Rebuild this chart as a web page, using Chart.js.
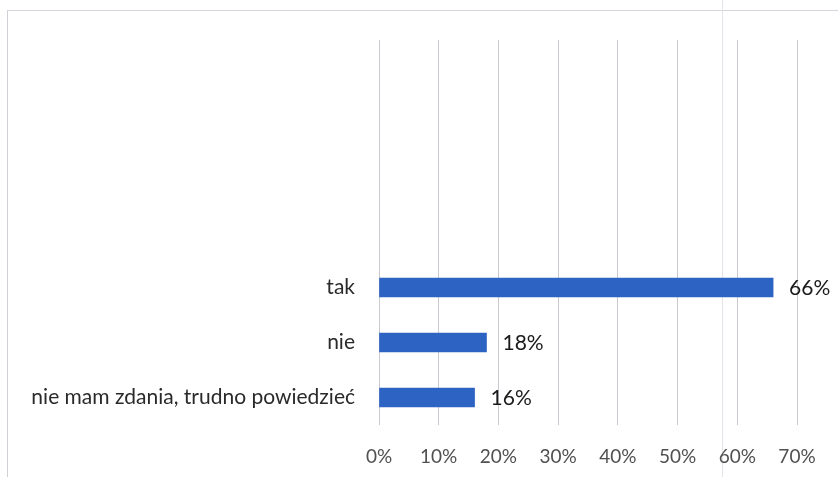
<!DOCTYPE html>
<html>
<head>
    <meta charset="utf-8">
    <title>tak / nie</title>
    <style>
        body {
            margin: 0;
            background: #ffffff;
            font-family: 'Lato', sans-serif;
        }
        #frame {
            position: absolute;
            left: 7px;
            top: 10px;
            right: -2px;
            bottom: -2px;
            border-left: 1px solid #d0d0d6;
            border-top: 1px solid #d4d6de;
        }
        #scanline {
            position: absolute;
            left: 722px;
            top: 0;
            width: 1px;
            height: 477px;
            background: #e2e4ea;
        }
        #chart-container {
            position: absolute;
            left: 0;
            top: 0;
            width: 838px;
            height: 477px;
        }
    </style>
    <script src="https://cdn.jsdelivr.net/npm/chart.js"></script>
</head>
<body>
    <div id="frame"></div>
    <div id="scanline"></div>
    <div id="chart-container">
        <canvas id="chart"></canvas>
    </div>
    <script>
        // empty slots above keep the three bars at the bottom, as in the original
        const categories = ['', '', '', '', 'tak', 'nie', 'nie mam zdania, trudno powiedzieć'];
        const values = [null, null, null, null, 66, 18, 16];
        const tickMax = 70;
        const tickStep = 10;

        const valueLabels = {
            id: 'valueLabels',
            afterDatasetsDraw(chart) {
                const ctx = chart.ctx;
                const meta = chart.getDatasetMeta(0);
                ctx.save();
                ctx.font = '21px Lato, sans-serif';
                ctx.fillStyle = '#1a1a1a';
                ctx.textAlign = 'left';
                ctx.textBaseline = 'middle';
                meta.data.forEach((bar, i) => {
                    if (values[i] === null) return;
                    ctx.fillText(values[i] + '%', bar.x + 16, bar.y + 1);
                });
                ctx.restore();
            }
        };

        new Chart(document.getElementById('chart').getContext('2d'), {
            type: 'bar',
            data: {
                labels: categories,
                datasets: [{
                    data: values,
                    backgroundColor: '#2d63c2',
                    borderWidth: 0,
                    barThickness: 19
                }]
            },
            options: {
                indexAxis: 'y',
                responsive: true,
                maintainAspectRatio: false,
                animation: false,
                layout: { padding: { top: 40, right: 41, bottom: 0, left: 0 } },
                plugins: {
                    legend: { display: false },
                    tooltip: { enabled: false }
                },
                scales: {
                    x: {
                        min: 0,
                        max: tickMax,
                        ticks: {
                            stepSize: tickStep,
                            color: '#505050',
                            font: { family: 'Lato', size: 19 },
                            padding: 20,
                            callback: v => v + '%'
                        },
                        grid: {
                            color: '#c8cad0',
                            lineWidth: 1,
                            drawTicks: false
                        },
                        border: { display: false },
                        afterFit: scale => { scale.height = 52; }
                    },
                    y: {
                        ticks: {
                            color: '#2a2a2a',
                            font: { family: 'Lato', size: 21 },
                            padding: 24
                        },
                        grid: { display: false, drawTicks: false },
                        border: { display: false },
                        afterFit: scale => { scale.width = 379; }
                    }
                }
            },
            plugins: [valueLabels]
        });
    </script>
</body>
</html>
